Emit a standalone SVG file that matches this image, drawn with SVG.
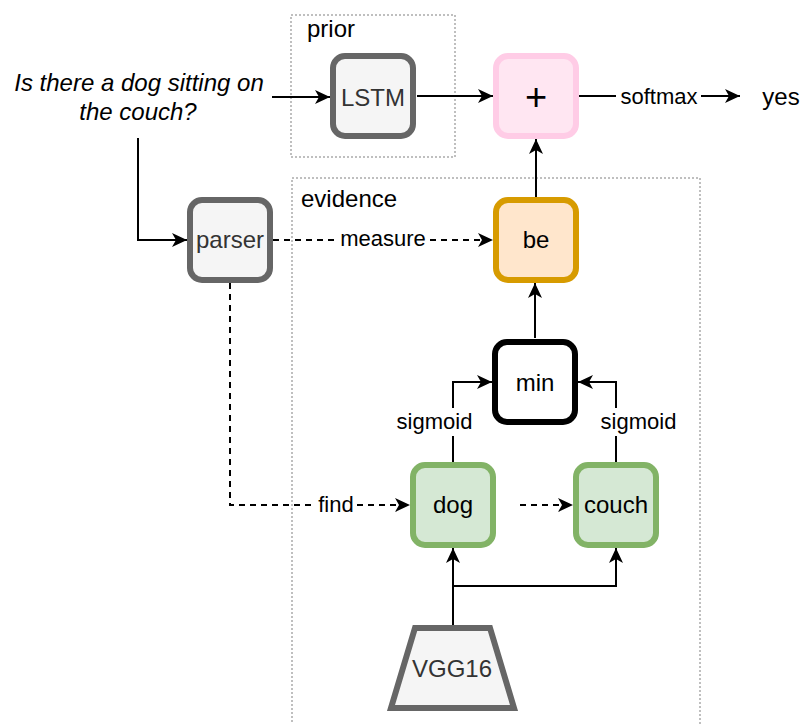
<svg xmlns="http://www.w3.org/2000/svg" width="802" height="724" viewBox="0 0 802 724">
<style>
.t{font-family:"Liberation Sans",Arial,sans-serif;fill:#000}
.n{font-size:24px;text-anchor:middle}
.l{font-size:22px;text-anchor:middle}
.g{fill:#333333}
.box{stroke-width:6}
.e{fill:none;stroke:#000;stroke-width:2}
.d{stroke-dasharray:6 5}
.grp{fill:none;stroke:#aaaaaa;stroke-width:1.5;stroke-dasharray:2 2}
</style>
<defs>
<marker id="a" markerUnits="userSpaceOnUse" markerWidth="16" markerHeight="16" viewBox="0 0 16 16" refX="15" refY="8" orient="auto">
<path d="M0,1 L15,8 L0,15 L4,8 Z" fill="#000"/>
</marker>
</defs>
<g id="prior-group">
<rect class="grp" x="291" y="15" width="164" height="142"/>
<text class="t" x="307" y="37" font-size="24">prior</text>
</g>
<g id="evidence-group">
<rect class="grp" x="292" y="178" width="408" height="570"/>
<text class="t" x="301" y="207" font-size="24">evidence</text>
</g>
<g id="question">
<text class="t n" font-style="italic" x="139" y="91">Is there a dog sitting on</text>
<text class="t n" font-style="italic" x="138" y="120">the couch?</text>
</g>
<g id="lstm">
<rect class="box" x="333" y="56" width="80" height="80" rx="12" fill="#f5f5f5" stroke="#666666"/>
<text class="t n g" x="373" y="106">LSTM</text>
</g>
<g id="plus">
<rect class="box" x="496" y="56" width="80" height="80" rx="12" fill="#ffe6f2" stroke="#ffcce6"/>
<text class="t" x="536" y="110" font-size="38" text-anchor="middle">+</text>
</g>
<g id="yes">
<text class="t n" x="781" y="105">yes</text>
</g>
<g id="parser">
<rect class="box" x="190" y="200" width="80" height="80" rx="12" fill="#f5f5f5" stroke="#666666"/>
<text class="t n g" x="230" y="248">parser</text>
</g>
<g id="be">
<rect class="box" x="496" y="200" width="80" height="80" rx="12" fill="#ffe6cc" stroke="#d79b00"/>
<text class="t n" x="536" y="248">be</text>
</g>
<g id="min">
<rect class="box" x="495" y="342" width="80" height="80" rx="12" fill="#ffffff" stroke="#000000"/>
<text class="t n" x="535" y="391">min</text>
</g>
<g id="dog">
<rect class="box" x="413" y="465" width="80" height="80" rx="12" fill="#d5e8d4" stroke="#82b366"/>
<text class="t n" x="453" y="513">dog</text>
</g>
<g id="couch">
<rect class="box" x="576" y="465" width="80" height="80" rx="12" fill="#d5e8d4" stroke="#82b366"/>
<text class="t n" x="616" y="513">couch</text>
</g>
<g id="vgg16">
<polygon class="box" points="415,628 490,628 514,708 391,708" fill="#f5f5f5" stroke="#666666"/>
<text class="t n g" x="452" y="677">VGG16</text>
</g>
<g id="connectors">
<path class="e" d="M272,97 H330" marker-end="url(#a)"/>
<path class="e" d="M417,96 H493" marker-end="url(#a)"/>
<path class="e" d="M579,96 H616"/>
<text class="t l" x="659" y="104">softmax</text>
<path class="e" d="M701,96 H740" marker-end="url(#a)"/>
<path class="e" d="M138,138 V240 H187" marker-end="url(#a)"/>
<path class="e d" d="M273,240 H336"/>
<text class="t l" x="383" y="246">measure</text>
<path class="e d" d="M430,240 H493" marker-end="url(#a)"/>
<path class="e d" d="M230,283 V505 H315"/>
<text class="t l" x="336" y="512">find</text>
<path class="e d" d="M357,505 H410" marker-end="url(#a)"/>
<path class="e" d="M536,197 V139" marker-end="url(#a)"/>
<path class="e" d="M535,338 V283" marker-end="url(#a)"/>
<path class="e" d="M453,462 V436"/>
<path class="e" d="M453,408 V382 H492" marker-end="url(#a)"/>
<text class="t l" x="434.5" y="429">sigmoid</text>
<path class="e" d="M616,462 V436"/>
<path class="e" d="M616,408 V382 H578" marker-end="url(#a)"/>
<text class="t l" x="638.5" y="429">sigmoid</text>
<path class="e d" d="M520,505 H573" marker-end="url(#a)"/>
<path class="e" d="M453,625 V548" marker-end="url(#a)"/>
<path class="e" d="M453,586 H616 V548" marker-end="url(#a)"/>
</g>
</svg>
